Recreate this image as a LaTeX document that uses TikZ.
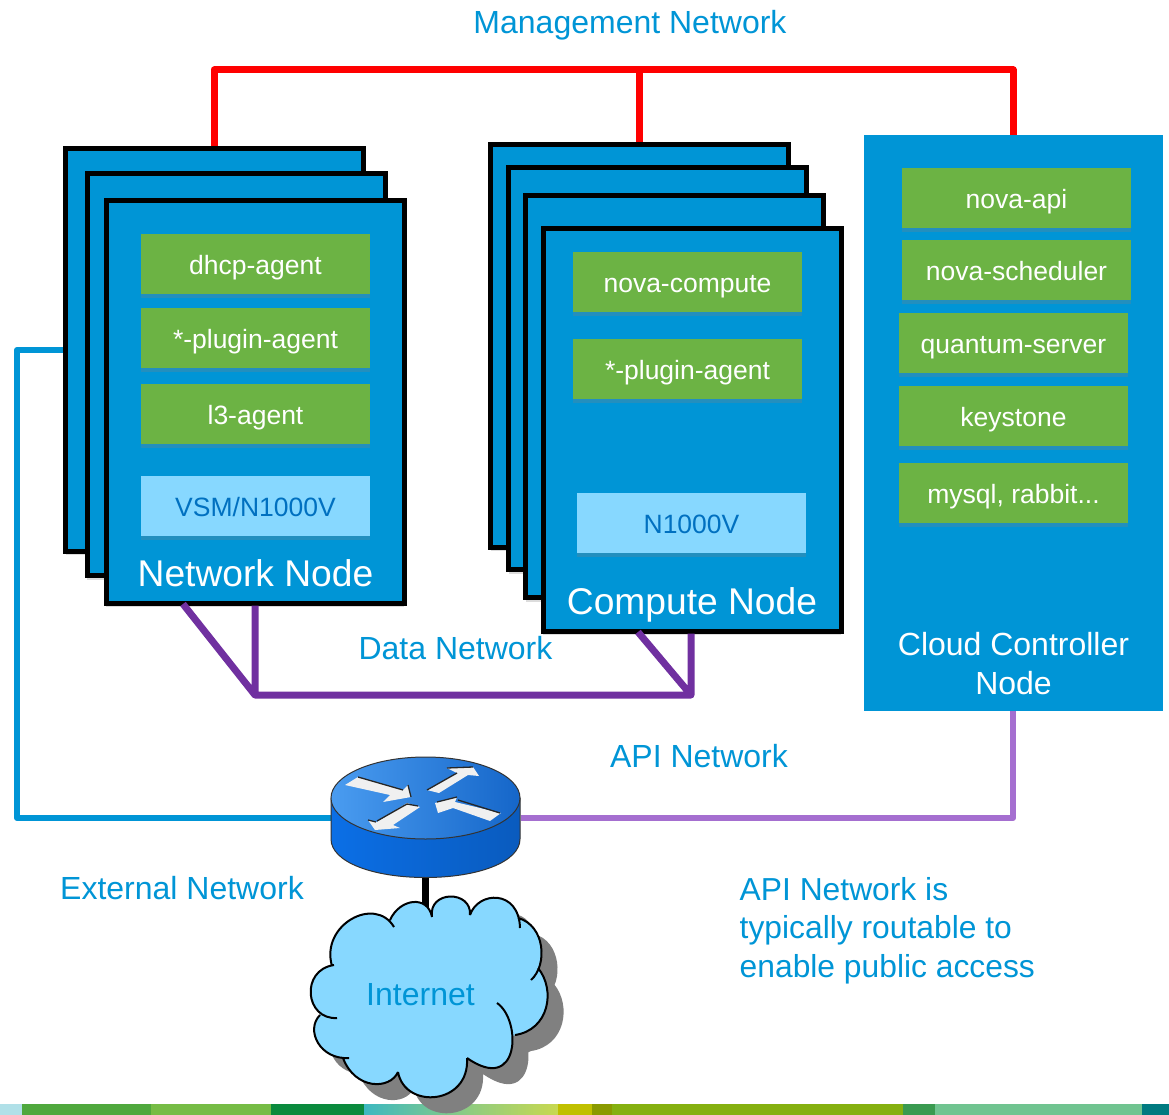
\documentclass[tikz,border=0pt]{standalone}
\usepackage{fontspec}
\setmainfont{Liberation Sans}
\usetikzlibrary{shadows}
\definecolor{boxblue}{HTML}{0095D6}
\definecolor{agentgreen}{HTML}{6CB344}
\definecolor{paleblue}{HTML}{87D8FF}
\definecolor{switchblue}{HTML}{0070C0}
\definecolor{datapurple}{HTML}{7030A0}
\definecolor{apipurple}{HTML}{A56FD0}
\definecolor{routerleft}{HTML}{0B6FE6}
\definecolor{routerright}{HTML}{0A5BBE}
\definecolor{routertopleft}{HTML}{4A9CF0}
\definecolor{routertopright}{HTML}{1566C9}
\tikzset{
  softshadow/.style={drop shadow={shadow xshift=0pt,shadow yshift=-4pt,opacity=.28}},
  hostbox/.style={rectangle, draw=black, line width=5pt, fill=boxblue, minimum width=298pt, minimum height=402pt, softshadow},
  ctrlbox/.style={rectangle, fill=boxblue, minimum width=299pt, minimum height=576pt},
  agentbox/.style={rectangle, fill=agentgreen, text=white, minimum width=229pt, minimum height=60pt, text height=21.5pt, text depth=0pt, font=\fontsize{26.5}{30}\selectfont, softshadow},
  switchbox/.style={rectangle, fill=paleblue, text=switchblue, minimum width=229pt, minimum height=60pt, text height=21.5pt, text depth=0pt, font=\fontsize{26.5}{30}\selectfont, softshadow},
  hosttitle/.style={text=white, font=\fontsize{37.2}{42}\selectfont},
  netlabel/.style={text=boxblue, font=\fontsize{32}{38.5}\selectfont, align=left},
  mgmtline/.style={draw=red, line width=7pt, line join=round},
  dataline/.style={draw=datapurple, line width=7pt, line join=round},
  extline/.style={draw=boxblue, line width=6pt, line join=round},
  apiline/.style={draw=apipurple, line width=6pt, line join=round},
  arrowfill/.style={fill=white!94!black},
  arrowedge/.style={draw=black!85, line width=1.3pt},
  cloudcore/.style={insert path={
    (432,917) -- (470,915) -- (518,918) -- (520,928) -- (531,980) -- (538,968) -- (515,1035) -- (467,1058)
    -- (398,1072) -- (343,1058) -- (320,1015) -- (334,965) -- (332,966) -- (390,920) -- cycle
  }},
  cloudbumps/.style={insert path={
    (432,917) .. controls (428,890) and (472,890) .. (470,915)
    (470,915) .. controls (478,891) and (519,889) .. (520,928)
    (518,918) .. controls (545,925) and (548,965) .. (531,980)
    (538,968) .. controls (556,990) and (549,1030) .. (515,1035)
    (497,1003) .. controls (522,1020) and (520,1095) .. (467,1058)
    (467,1058) .. controls (470,1105) and (405,1110) .. (398,1072)
    (398,1072) .. controls (390,1090) and (355,1090) .. (343,1058)
    (349,1058) .. controls (320,1060) and (305,1030) .. (320,1015)
    (337,1018) .. controls (305,1020) and (300,970) .. (334,965)
    (332,966) .. controls (320,925) and (375,895) .. (394,927)
    (390,920) .. controls (400,898) and (428,895) .. (432,917)
  }}
}
\begin{document}
\begin{tikzpicture}[x=1pt,y=-1pt]
    \useasboundingbox (0,0) rectangle (1169,1115);
    % strip along the bottom
    \fill[color={rgb,255:red,176;green,224;blue,232}] (0,1104) rectangle (22,1115);
    \fill[color={rgb,255:red,79;green,168;blue,61}] (22,1104) rectangle (151,1115);
    \fill[color={rgb,255:red,118;green,188;blue,69}] (151,1104) rectangle (271,1115);
    \fill[color={rgb,255:red,10;green,138;blue,61}] (271,1104) rectangle (364,1115);
    \fill[left color={rgb,255:red,60;green,184;blue,192}, right color={rgb,255:red,144;green,204;blue,128}] (364,1104) rectangle (470,1115);
    \fill[left color={rgb,255:red,144;green,204;blue,128}, right color={rgb,255:red,200;green,216;blue,80}] (470,1104) rectangle (558,1115);
    \fill[color={rgb,255:red,192;green,192;blue,0}] (558,1104) rectangle (592,1115);
    \fill[color={rgb,255:red,138;green,154;blue,0}] (592,1104) rectangle (612,1115);
    \fill[color={rgb,255:red,133;green,176;blue,16}] (612,1104) rectangle (903,1115);
    \fill[color={rgb,255:red,58;green,154;blue,80}] (903,1104) rectangle (935,1115);
    \fill[color={rgb,255:red,112;green,196;blue,144}] (935,1104) rectangle (1142,1115);
    \fill[color={rgb,255:red,0;green,122;blue,128}] (1142,1104) rectangle (1169,1115);
    % network node stack
    \node[hostbox] (netA) at (214.5,350) {};
    \node[hostbox] (netB) at (236,374.5) {};
    \node[hostbox] (netC) at (255,402) {};
    \node[agentbox] (dhcp) at (255.5,264) {dhcp-agent};
    \node[agentbox] (plugA) at (255.5,338) {*-plugin-agent};
    \node[agentbox] (lthree) at (255.5,414) {l3-agent};
    \node[switchbox] (vsm) at (255.5,506) {VSM/N1000V};
    \node[hosttitle] (netT) at (255.5,573) {Network Node};
    % compute node stack
    \node[hostbox] (compA) at (639.5,346) {};
    \node[hostbox] (compB) at (657.5,368.5) {};
    \node[hostbox] (compC) at (674.5,396.5) {};
    \node[hostbox] (compD) at (692,430) {};
    \node[agentbox] (novac) at (687.5,282) {nova-compute};
    \node[agentbox] (plugB) at (687.5,369) {*-plugin-agent};
    \node[switchbox] (nkv) at (691.5,523) {N1000V};
    \node[hosttitle] (compT) at (692,605) {Compute Node};
    % controller
    \node[ctrlbox] (ctrl) at (1013.5,423) {};
    \node[agentbox] (api) at (1016.5,198) {nova-api};
    \node[agentbox] (sched) at (1016.5,270) {nova-scheduler};
    \node[agentbox] (quantum) at (1013.5,343) {quantum-server};
    \node[agentbox] (keystone) at (1013.5,416) {keystone};
    \node[agentbox] (mysql) at (1013.5,493) {mysql, rabbit...};
    \node[text=white, align=center, font=\fontsize{32}{39}\selectfont] (ctrlT) at (1013.5,664) {Cloud Controller\\Node};
    % router, only its box here, the drawing follows
    \node[rectangle, minimum width=190pt, minimum height=120pt, inner sep=0pt, outer sep=0pt] (router) at (425.5,818) {};
    \coordinate (mg1) at (214,70);
    \coordinate (mg2) at (639,70);
    \coordinate (mg3) at (1013,70);
    \coordinate (ext1) at (17,350);
    \coordinate (ext2) at (17,818);
    \coordinate (apiA) at (1013,818);
    \coordinate (dt1) at (255,695);
    \coordinate (dt2) at (691,695);
    \coordinate (dtA) at (183,604);
    \coordinate (dtB) at (638,632);
    \coordinate (cloudtop) at (425,915);
    \draw[mgmtline] (netA.north -| mg1) -- (mg1) -- (mg3) -- (ctrl.north -| mg3)
        (mg2) -- (compA.north -| mg2);
    \draw[dataline] (netC.south) -- (dt1) -- (dt2) -- (compD.south -| dt2)
        (dtA) -- (dt1)
        (dtB) -- (dt2);
    \draw[extline] (netA.west) -- (ext1) -- (ext2) -- (router.west);
    \draw[apiline] (router.east) -- (apiA) -- (ctrl.south -| apiA);
    \draw[line width=7pt] (router.south -| cloudtop) -- (cloudtop);
    % router drawing
    \path[draw=black!80, line width=1pt, left color=routerleft, right color=routerright]
        (331,798) -- (331,839) .. controls (331,862) and (373,877.5) .. (425.5,877.5)
        .. controls (478,877.5) and (520,862) .. (520,839) -- (520,798) -- cycle;
    \path[draw=black!80, line width=1pt, left color=routertopleft, right color=routertopright]
        (425.5,798) ellipse [x radius=94.5, y radius=41];
    \fill[arrowfill] (345,785) -- (358,777) -- (403,790) -- (408,785) -- (411,797) -- (383,802) -- (390,795) -- cycle;
    \draw[arrowedge] (358,777) -- (403,790) (408,785) -- (411,797);
    \fill[arrowfill] (427,790) -- (457,773) -- (447,768) -- (473,767) -- (479,776) -- (468,775) -- (439,793) -- cycle;
    \draw[arrowedge] (427,790) -- (457,773) (447,768) -- (473,767);
    \fill[arrowfill] (435,803) -- (457,797) -- (455,802) -- (501,813) -- (490,821) -- (453,808) -- (438,813) -- cycle;
    \draw[arrowedge] (437,802) -- (457,797) (458,800) -- (500,813);
    \fill[arrowfill] (420,807) -- (407,803) -- (377,822) -- (368,820) -- (375,830) -- (400,828) -- (393,825) -- cycle;
    \draw[arrowedge] (377,821) -- (407,804) -- (418,806) (368,820) -- (376,822);
    % cloud
    \begin{scope}[shift={(16,16)}]
    \fill[color=black!50, cloudcore, cloudbumps];
    \end{scope}
    \fill[color=paleblue, cloudcore, cloudbumps];
    \draw[line width=2pt, cloudbumps];
    \node[netlabel] (internet) at (420.5,995) {Internet};
    % labels
    \node[netlabel] (mgmtT) at (630,25) {Management Network};
    \node[netlabel] (dataT) at (455.5,648) {Data Network};
    \node[netlabel] (apiT) at (699,756) {API Network};
    \node[netlabel] (extT) at (182,888) {External Network};
    \node[netlabel, anchor=north west, inner sep=0pt, font=\fontsize{31.8}{38.5}\selectfont] (apiN) at (739.5,877) {API Network is\\typically routable to\\enable public access};
\end{tikzpicture}
\end{document}
